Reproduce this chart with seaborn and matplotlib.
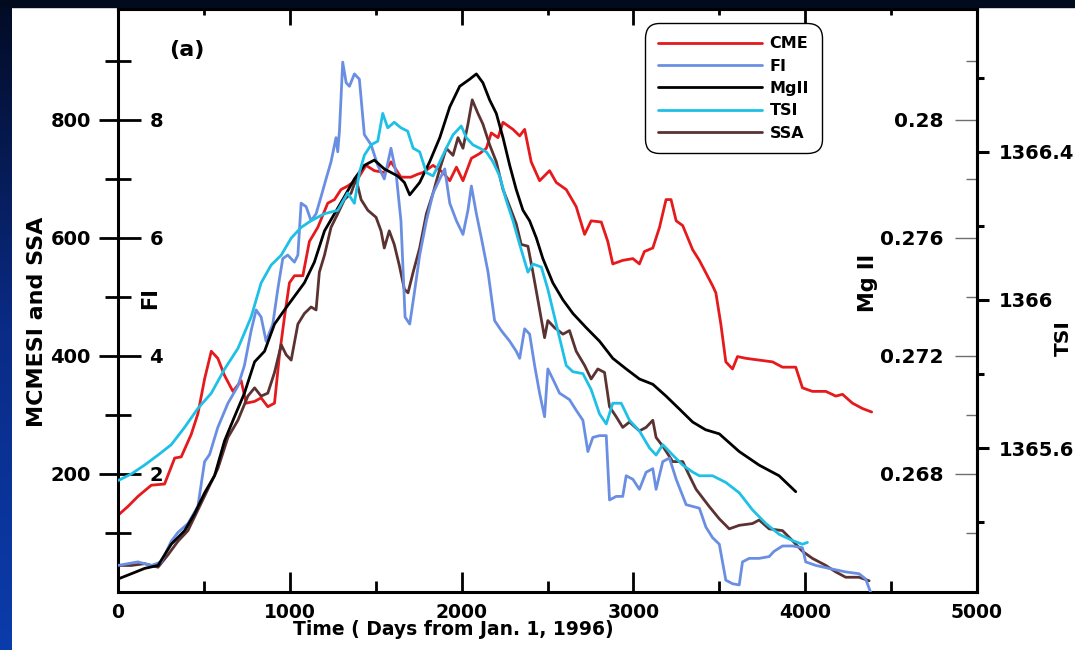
import numpy as np
import pandas as pd
import matplotlib
matplotlib.use("Agg")
import matplotlib.pyplot as plt
import seaborn as sns
from matplotlib.ticker import FixedLocator, FixedFormatter
from matplotlib.colors import LinearSegmentedColormap
from matplotlib.patches import Rectangle

# ---- data (days from 1996-01-01) ----
cme_days = [0, 58, 116, 194, 271, 330, 368, 426, 465, 504, 543, 581, 620, 669, 717, 746, 795, 833, 872, 911,
            940, 969, 998, 1027, 1076, 1114, 1163, 1221, 1260, 1298, 1337, 1395, 1444, 1492, 1550, 1589, 1647,
            1705, 1744, 1776, 1834, 1892, 1931, 1970, 2008, 2057, 2105, 2144, 2173, 2212, 2241, 2299, 2338, 2367,
            2405, 2454, 2512, 2551, 2609, 2667, 2716, 2754, 2813, 2851, 2880, 2938, 2997, 3035, 3064, 3113, 3152,
            3190, 3219, 3249, 3287, 3345, 3384, 3461, 3480, 3509, 3538, 3577, 3606, 3655, 3732, 3810, 3868, 3945,
            3984, 4042, 4120, 4178, 4217, 4275, 4333, 4387]
cme_vals = [130, 145, 162, 181, 183, 227, 229, 267, 302, 361, 408, 396, 367, 340, 358, 320, 323, 329, 314, 320,
            402, 466, 524, 536, 536, 594, 618, 659, 665, 682, 688, 700, 723, 714, 711, 729, 703,
            703, 708, 711, 723, 711, 697, 720, 697, 735, 743, 752, 778, 770, 796, 784, 773, 784,
            729, 697, 714, 694, 682, 653, 606, 629, 627, 594, 556, 562, 565, 556, 577, 583, 618,
            665, 665, 629, 621, 580, 562, 519, 507, 454, 390, 378, 399, 396, 393, 390, 381, 381,
            346, 340, 340, 332, 335, 320, 311, 305]

fi_days = [0, 58, 116, 194, 252, 310, 349, 407, 465, 504, 533, 581, 640, 698, 736, 775, 804, 833, 862, 901,
           930, 959, 988, 1027, 1047, 1066, 1095, 1124, 1153, 1182, 1211, 1240, 1269, 1279, 1289, 1308, 1328,
           1347, 1376, 1405, 1434, 1473, 1512, 1550, 1589, 1618, 1647, 1671, 1698, 1725, 1756, 1795, 1834, 1873,
           1902, 1931, 1970, 2008, 2037, 2057, 2086, 2115, 2154, 2192, 2231, 2280, 2318, 2338, 2367, 2396, 2425,
           2454, 2483, 2502, 2531, 2570, 2628, 2667, 2706, 2735, 2764, 2803, 2842, 2861, 2900, 2938, 2958, 2997,
           3035, 3074, 3113, 3132, 3171, 3210, 3249, 3307, 3384, 3422, 3461, 3500, 3538, 3577, 3616, 3635, 3674,
           3732, 3790, 3819, 3868, 3926, 3984, 4003, 4062, 4139, 4236, 4313, 4352, 4380]
fi_vals = [0.45, 0.48, 0.51, 0.45, 0.51, 0.86, 1.01, 1.16, 1.45, 2.21, 2.33, 2.79, 3.20, 3.49, 3.84, 4.43, 4.78,
           4.66, 4.25, 4.54, 5.13, 5.65, 5.71, 5.59, 5.71, 6.59, 6.53, 6.29, 6.41, 6.70, 7.00, 7.29, 7.70, 7.46,
           7.81, 8.98, 8.63, 8.57, 8.78, 8.69, 7.75, 7.58, 7.23, 7.00, 7.52, 7.11, 6.29, 4.66, 4.54, 5.07, 5.71,
           6.29, 6.76, 7.00, 7.17, 6.59, 6.29, 6.06, 6.47, 6.88, 6.41, 6.00, 5.42, 4.60, 4.43, 4.25, 4.08, 3.96,
           4.46, 4.37, 3.84, 3.37, 2.97, 3.78, 3.61, 3.37, 3.26, 3.08, 2.91, 2.38, 2.62, 2.65, 2.65, 1.56, 1.62,
           1.62, 1.97, 1.91, 1.74, 2.03, 2.09, 1.74, 2.21, 2.27, 1.91, 1.48, 1.42, 1.10, 0.92, 0.81, 0.20, 0.14,
           0.12, 0.51, 0.57, 0.57, 0.60, 0.69, 0.78, 0.78, 0.75, 0.51, 0.45, 0.40, 0.34, 0.31, 0.22, 0.0]

mg_days = [0, 78, 155, 233, 310, 388, 446, 504, 562, 620, 678, 736, 795, 853, 911, 969, 1027, 1085, 1143, 1202,
           1260, 1318, 1376, 1434, 1492, 1550, 1628, 1667, 1698, 1756, 1814, 1873, 1931, 1989, 2047, 2086, 2124,
           2163, 2202, 2241, 2280, 2318, 2357, 2396, 2435, 2473, 2531, 2590, 2648, 2725, 2803, 2880, 2958, 3035,
           3113, 3190, 3268, 3345, 3420, 3500, 3616, 3732, 3848, 3945]
mg_vals = [0.26444, 0.26462, 0.2648, 0.2649, 0.26562, 0.26608, 0.26666, 0.26736, 0.26794, 0.26912, 0.26994,
           0.27074, 0.2718, 0.27216, 0.27308, 0.27356, 0.27402, 0.27448, 0.27518, 0.27624, 0.27682, 0.2774,
           0.278, 0.27846, 0.27864, 0.27834, 0.2781, 0.27788, 0.27746, 0.27788, 0.27858, 0.2794, 0.28044,
           0.28114, 0.28138, 0.28156, 0.28126, 0.28068, 0.28022, 0.2794, 0.27846, 0.27764, 0.27694, 0.27658,
           0.276, 0.2753, 0.27448, 0.2739, 0.27344, 0.27296, 0.2725, 0.27192, 0.27156, 0.27122, 0.27104,
           0.27064, 0.2702, 0.26976, 0.2695, 0.26936, 0.26876, 0.2683, 0.26794, 0.2674]

tsi_days = [0, 78, 155, 233, 310, 388, 465, 543, 620, 698, 775, 833, 891, 950, 1008, 1066, 1124, 1202, 1279,
            1337, 1376, 1405, 1434, 1473, 1512, 1541, 1570, 1608, 1647, 1686, 1718, 1756, 1795, 1834, 1873, 1911,
            1950, 1998, 2028, 2066, 2105, 2144, 2183, 2221, 2260, 2299, 2338, 2386, 2415, 2464, 2502, 2531, 2570,
            2609, 2648, 2706, 2754, 2803, 2842, 2880, 2929, 2977, 3035, 3094, 3132, 3171, 3229, 3287, 3345, 3384,
            3461, 3538, 3616, 3693, 3771, 3848, 3926, 3984, 4013]
tsi_vals = [1365.512, 1365.530, 1365.554, 1365.581, 1365.609, 1365.656, 1365.707, 1365.748, 1365.813, 1365.869,
            1365.954, 1366.046, 1366.094, 1366.121, 1366.167, 1366.196, 1366.214, 1366.233, 1366.242, 1366.289,
            1366.261, 1366.344, 1366.391, 1366.419, 1366.429, 1366.504, 1366.465, 1366.480, 1366.465, 1366.456,
            1366.410, 1366.400, 1366.344, 1366.335, 1366.373, 1366.410, 1366.446, 1366.470, 1366.438, 1366.419,
            1366.410, 1366.400, 1366.373, 1366.335, 1366.269, 1366.214, 1366.150, 1366.075, 1366.097, 1366.089,
            1366.029, 1365.973, 1365.898, 1365.823, 1365.806, 1365.801, 1365.758, 1365.692, 1365.665, 1365.721,
            1365.721, 1365.675, 1365.646, 1365.600, 1365.581, 1365.609, 1365.581, 1365.554, 1365.535, 1365.525,
            1365.525, 1365.507, 1365.479, 1365.433, 1365.396, 1365.367, 1365.350, 1365.340, 1365.345]

ssa_days = [0, 78, 155, 233, 291, 349, 407, 465, 523, 581, 640, 698, 756, 795, 833, 872, 911, 950, 979, 1008,
            1047, 1085, 1124, 1153, 1172, 1202, 1240, 1279, 1318, 1357, 1386, 1415, 1454, 1502, 1531, 1550, 1579,
            1608, 1637, 1667, 1688, 1718, 1756, 1795, 1834, 1873, 1911, 1950, 1979, 2008, 2037, 2062, 2095, 2124,
            2163, 2202, 2241, 2280, 2318, 2347, 2386, 2415, 2444, 2483, 2502, 2541, 2590, 2628, 2667, 2716, 2754,
            2793, 2832, 2861, 2900, 2938, 2977, 3035, 3074, 3113, 3132, 3171, 3229, 3287, 3326, 3365, 3441, 3500,
            3558, 3616, 3693, 3732, 3790, 3868, 3926, 3984, 4042, 4120, 4178, 4236, 4313, 4372]
ssa_vals = [45, 45, 48, 42, 63, 86, 104, 139, 174, 209, 262, 291, 332, 346, 332, 337, 372, 419, 402, 393,
            454, 472, 483, 478, 542, 571, 618, 641, 665, 676, 700, 665, 647, 635, 612, 583, 612,
            589, 554, 513, 507, 542, 583, 641, 676, 717, 752, 740, 770, 752, 793, 834, 811, 793,
            758, 729, 682, 653, 624, 589, 586, 542, 495, 431, 460, 448, 437, 443, 408, 384, 361,
            378, 372, 314, 297, 279, 288, 273, 279, 291, 262, 247, 221, 221, 197, 174, 145, 124,
            107, 113, 116, 122, 107, 104, 87, 69, 57, 45, 34, 25, 25, 19]

x_ticks = [0, 1000, 2000, 3000, 4000, 5000]
x_minor = [500, 1500, 2500, 3500, 4500]
left_ticks = [200, 400, 600, 800]
left_minor = [100, 300, 500, 700, 900]
fi_ticks = [2, 4, 6, 8]
fi_minor = [1, 3, 5, 7, 9]
mg_ticks = [0.268, 0.272, 0.276, 0.28]
mg_labels = ["0.268", "0.272", "0.276", "0.28"]
mg_minor = [0.266, 0.270, 0.274, 0.278, 0.282]
tsi_ticks = [1365.6, 1366.0, 1366.4]
tsi_labels = ["1365.6", "1366", "1366.4"]
tsi_minor = [1365.4, 1365.8, 1366.2, 1366.6]

colors = {"CME": "#e51a1c", "FI": "#6a8fe2", "MgII": "#000000", "TSI": "#1ec0e6", "SSA": "#5b3232"}

sns.set_theme(style="ticks")
plt.rcParams["font.family"] = ["DejaVu Sans"]
plt.rcParams["font.weight"] = "bold"
plt.rcParams["axes.labelweight"] = "bold"
plt.rcParams["text.color"] = "black"
plt.rcParams["axes.labelcolor"] = "black"
plt.rcParams["xtick.color"] = "black"
plt.rcParams["ytick.color"] = "black"

W, H = 1075, 650
fig = plt.figure(figsize=(W / 100, H / 100), dpi=100, facecolor="white")

# slide background bits: dark band on top, blue gradient strip on the left
fig.add_artist(Rectangle((0, 1 - 7 / H), 1, 7 / H, transform=fig.transFigure, color="#020a1e", zorder=0))
strip = fig.add_axes([0, 0, 12 / W, 1 - 7 / H])
grad = np.linspace(0, 1, 256).reshape(-1, 1)
strip.imshow(grad, aspect="auto", cmap=LinearSegmentedColormap.from_list("bg", ["#030c26", "#0a2b86", "#0a3cab"]))
strip.set_axis_off()

ax = fig.add_axes([118 / W, 58 / H, 859 / W, 583 / H])
ax.set_facecolor("white")
lw = 2.0

sns.lineplot(x=cme_days, y=cme_vals, ax=ax, color=colors["CME"], lw=lw, sort=False, estimator=None)
h_cme = ax.lines[-1]
sns.lineplot(x=ssa_days, y=ssa_vals, ax=ax, color=colors["SSA"], lw=lw, sort=False, estimator=None)
h_ssa = ax.lines[-1]

ax.set_xlim(0, 5000)
ax.set_ylim(0, 988)
ax.set_xticks(x_ticks)
ax.xaxis.set_minor_locator(FixedLocator(x_minor))
ax.set_yticks(left_ticks)
ax.yaxis.set_minor_locator(FixedLocator(left_minor))
ax.tick_params(axis="x", which="both", direction="in", top=False, width=2, labelsize=13.5, pad=8,
               color="black", labelcolor="black")
ax.tick_params(axis="x", which="major", length=14.4)
ax.tick_params(axis="x", which="minor", length=7.9)
ax.tick_params(axis="y", which="both", direction="out", width=2, labelsize=14, pad=6,
               color="black", labelcolor="black")
ax.tick_params(axis="y", which="major", length=13.7)
ax.tick_params(axis="y", which="minor", length=9.4)
for s in ax.spines.values():
    s.set_visible(True)
    s.set_linewidth(2.2)
    s.set_color("black")

top = ax.secondary_xaxis("top")
top.set_xticks(x_ticks)
top.xaxis.set_minor_locator(FixedLocator(x_minor))
top.tick_params(which="both", direction="in", width=2, labeltop=False, color="black")
top.tick_params(which="major", length=11.5)
top.tick_params(which="minor", length=4.3)
top.spines["top"].set_linewidth(2.2)

# FI axis: ticks pointing into the plot from the left spine
ax_fi = ax.twinx()
sns.lineplot(x=fi_days, y=fi_vals, ax=ax_fi, color=colors["FI"], lw=lw, sort=False, estimator=None)
h_fi = ax_fi.lines[-1]
ax_fi.spines["right"].set_position(("axes", 0))
for s in ax_fi.spines.values():
    s.set_visible(False)
ax_fi.set_ylim(0, 9.88)
ax_fi.set_yticks(fi_ticks)
ax_fi.yaxis.set_minor_locator(FixedLocator(fi_minor))
ax_fi.tick_params(axis="y", which="both", direction="out", width=2, labelsize=14, pad=6,
                  color="black", labelcolor="black")
ax_fi.tick_params(axis="y", which="major", length=16.6)
ax_fi.tick_params(axis="y", which="minor", length=9.4)

# Mg II axis: thin grey ticks pointing in from the right spine, labels inside
ax_mg = ax.twinx()
sns.lineplot(x=mg_days, y=mg_vals, ax=ax_mg, color=colors["MgII"], lw=lw, sort=False, estimator=None)
h_mg = ax_mg.lines[-1]
ax_mg.yaxis.tick_left()
ax_mg.yaxis.set_label_position("left")
ax_mg.spines["left"].set_position(("axes", 1))
for s in ax_mg.spines.values():
    s.set_visible(False)
ax_mg.set_ylim(0.264, 0.28376)
ax_mg.yaxis.set_major_locator(FixedLocator(mg_ticks))
ax_mg.yaxis.set_major_formatter(FixedFormatter(mg_labels))
ax_mg.yaxis.set_minor_locator(FixedLocator(mg_minor))
ax_mg.tick_params(axis="y", which="both", direction="out", width=1, color="#6e6e6e", labelsize=14.5,
                  pad=8.5, labelcolor="black")
ax_mg.tick_params(axis="y", which="major", length=15.8)
ax_mg.tick_params(axis="y", which="minor", length=8)

# TSI axis on the far right
ax_tsi = ax.twinx()
sns.lineplot(x=tsi_days, y=tsi_vals, ax=ax_tsi, color=colors["TSI"], lw=lw, sort=False, estimator=None)
h_tsi = ax_tsi.lines[-1]
for name, s in ax_tsi.spines.items():
    s.set_visible(name == "right")
ax_tsi.spines["right"].set_linewidth(2.2)
ax_tsi.spines["right"].set_color("black")
ax_tsi.set_ylim(1365.211, 1366.786)
ax_tsi.yaxis.set_major_locator(FixedLocator(tsi_ticks))
ax_tsi.yaxis.set_major_formatter(FixedFormatter(tsi_labels))
ax_tsi.yaxis.set_minor_locator(FixedLocator(tsi_minor))
ax_tsi.tick_params(axis="y", which="both", direction="out", width=2.2, color="black", labelsize=14,
                   pad=7, labelcolor="black")
ax_tsi.tick_params(axis="y", which="major", length=8.6)
ax_tsi.tick_params(axis="y", which="minor", length=5)

# labels
ax.set_xlabel("Time ( Days from Jan. 1, 1996)", fontsize=13.5, va="center", color="black")
ax.xaxis.set_label_coords(0.39, -0.065)
ax.set_ylabel("MCMESI and SSA", fontsize=16, va="center", color="black")
ax.yaxis.set_label_coords(-0.094, 0.463)
ax_fi.set_ylabel("FI", fontsize=15, va="center", rotation=90, color="black")
ax_fi.yaxis.set_label_coords(0.037, 0.504)
ax_mg.set_ylabel("Mg II", fontsize=15, va="center", rotation=90, color="black")
ax_mg.yaxis.set_label_coords(0.873, 0.53)
ax_tsi.set_ylabel("TSI", fontsize=14.5, va="center", rotation=90, color="black")
ax_tsi.yaxis.set_label_coords(1.1, 0.436)
ax.text(0.08, 0.93, "(a)", transform=ax.transAxes, fontsize=16, weight="bold", ha="center", va="center",
        color="black")

leg = ax_tsi.legend([h_cme, h_fi, h_mg, h_tsi, h_ssa], ["CME", "FI", "MgII", "TSI", "SSA"],
                    loc="upper left", bbox_to_anchor=(0.619, 0.967), bbox_transform=ax.transAxes,
                    borderaxespad=0, frameon=True, fancybox=True, framealpha=1, edgecolor="black",
                    handlelength=6.5, handletextpad=0.5, labelspacing=0.46, borderpad=0.5,
                    prop={"size": 11.5, "weight": "bold"})
leg.get_frame().set_linewidth(1.0)
leg.get_frame().set_boxstyle("round", rounding_size=0.9)
for t in leg.get_texts():
    t.set_color("black")

fig.savefig("out.png", dpi=100, facecolor=fig.get_facecolor())
